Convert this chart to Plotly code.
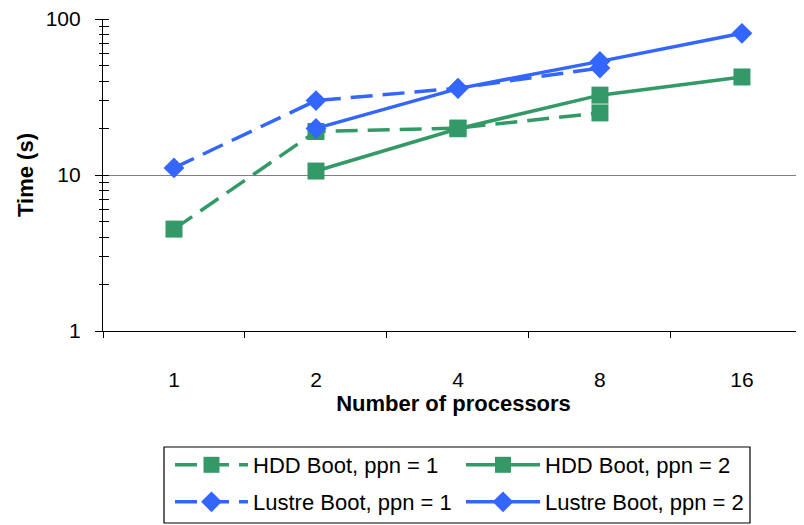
import plotly.graph_objects as go

categories = ["1", "2", "4", "8", "16"]
hdd_ppn1 = [4.5, 19.0, 20.0, 25.0, None]
hdd_ppn2 = [None, 10.6, 19.8, 32.5, 42.5]
lustre_ppn1 = [11.1, 30.0, 36.0, 48.5, None]
lustre_ppn2 = [None, 19.9, 35.8, 53.5, 81.0]
y_ticks = [1, 10, 100]
y_ticktext = ["1", "10", "100"]

GREEN = "#339966"
BLUE = "#3366FF"
FONT = "Liberation Sans, Arial, sans-serif"

OFF = 8  # page body margin
W, H = 804 - OFF, 525 - OFF
PL, PR, PT, PB = 103 - OFF, 804 - OFF, 19 - OFF, 331 - OFF   # plot area in figure px
PW, PH = PR - PL, PB - PT

def px_x(x):
    return (x - OFF - PL) / PW

def px_y(y):
    return (PB - (y - OFF)) / PH

fig = go.Figure()

def add(name, vals, color, dash, symbol, size, legend):
    fig.add_trace(go.Scatter(
        x=categories, y=vals, name=name, mode="lines+markers",
        line=dict(color=color, width=3.5, dash=dash),
        marker=dict(color=color, symbol=symbol, size=size, line=dict(width=0)),
        connectgaps=False, legend=legend,
    ))

add("HDD Boot, ppn = 1", hdd_ppn1, GREEN, "22px,10px", "square", 17, "legend")
add("HDD Boot, ppn = 2", hdd_ppn2, GREEN, "solid", "square", 17, "legend2")
add("Lustre Boot, ppn = 1", lustre_ppn1, BLUE, "22px,10px", "diamond", 16, "legend3")
add("Lustre Boot, ppn = 2", lustre_ppn2, BLUE, "solid", "diamond", 16, "legend4")

def leg(xpx, ypx, itemw):
    return dict(
        x=px_x(xpx), xanchor="left", y=px_y(ypx), yanchor="middle",
        itemwidth=itemw, bgcolor="rgba(0,0,0,0)", borderwidth=0,
        font=dict(family=FONT, size=22, color="black"),
    )

fig.update_layout(
    width=W, height=H,
    margin=dict(l=PL, r=W - PR, t=PT, b=H - PB, autoexpand=False),
    paper_bgcolor="white", plot_bgcolor="white",
    font=dict(family=FONT, size=21, color="black"),
    showlegend=True,
    legend=leg(170, 465, 73),
    legend2=leg(461, 465, 74),
    legend3=leg(170, 502, 73),
    legend4=leg(461, 502, 74),
    xaxis=dict(
        type="category", range=[-0.5, 4.437],
        tickson="boundaries", ticks="outside", ticklen=6, tickcolor="black",
        showline=True, linecolor="black", linewidth=1.2,
        showgrid=False, zeroline=False,
        ticklabelstandoff=30,
        tickfont=dict(family=FONT, size=21),
        title=dict(text="<b>Number of processors</b>", standoff=3,
                   font=dict(family=FONT, size=22)),
    ),
    yaxis=dict(
        type="log", range=[0, 2],
        tickvals=y_ticks, ticktext=y_ticktext,
        ticks="outside", ticklen=7, tickcolor="black",
        minor=dict(ticks="outside", ticklen=3, tickcolor="black", dtick="D1", showgrid=False),
        showline=True, linecolor="black", linewidth=1.2,
        showgrid=True, gridcolor="#808080", gridwidth=1.2,
        zeroline=False,
        ticklabelstandoff=10,
        ticklabeloverflow="allow",
        tickfont=dict(family=FONT, size=21),
        title=dict(text="<b>Time (s)</b>", standoff=5,
                   font=dict(family=FONT, size=22)),
    ),
    yaxis2=dict(
        type="log", range=[0, 2], overlaying="y", side="left",
        showticklabels=False, tickvals=y_ticks, ticks="",
        minor=dict(ticks="inside", ticklen=6, tickcolor="black", dtick="D1", showgrid=False),
        showgrid=False, showline=False, zeroline=False,
    ),
    shapes=[dict(
        type="rect", xref="paper", yref="paper",
        x0=px_x(164), x1=px_x(750), y0=px_y(523), y1=px_y(447),
        line=dict(color="black", width=1.2), fillcolor="rgba(0,0,0,0)",
    )],
)

fig.add_trace(go.Scatter(x=categories, y=[None] * 5, yaxis="y2", showlegend=False,
                         hoverinfo="skip", mode="lines"))

fig.write_html("out.html")
